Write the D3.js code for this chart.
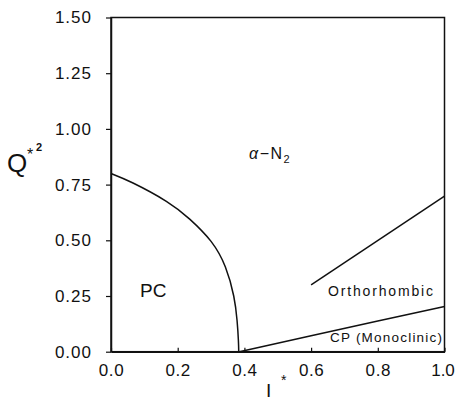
<!DOCTYPE html>
<html><head><meta charset="utf-8">
<script src="https://cdn.jsdelivr.net/npm/d3@7"></script>
<style>body{margin:0;background:#fff}svg{display:block}text{font-family:"Liberation Sans",Arial,sans-serif;fill:#111}</style>
</head><body><svg id="c" width="455" height="401"></svg>
<script>
const xTicks = [0.0, 0.2, 0.4, 0.6, 0.8, 1.0];
const yTicks = [0.00, 0.25, 0.50, 0.75, 1.00, 1.25, 1.50];
// PC / alpha-N2 boundary
const pcI = [0.000, 0.066, 0.166, 0.236, 0.300, 0.343, 0.368, 0.378, 0.382, 0.383];
const pcQ = [0.800, 0.757, 0.675, 0.595, 0.495, 0.380, 0.250, 0.140, 0.050, 0.000];
// CP (monoclinic) / orthorhombic boundary
const cpI = [0.385, 0.600, 0.800, 1.000];
const cpQ = [0.000, 0.072, 0.138, 0.203];
// orthorhombic / alpha-N2 boundary
const orI = [0.600, 1.000];
const orQ = [0.300, 0.698];

const svg = d3.select("#c");
const x = d3.scaleLinear().domain([0, 1]).range([111, 444.5]);
const y = d3.scaleLinear().domain([0, 1.5]).range([351.7, 17.5]);

svg.append("rect").attr("x", x(0)).attr("y", y(1.5)).attr("width", x(1) - x(0)).attr("height", y(0) - y(1.5))
  .attr("fill", "none").attr("stroke", "#111").attr("stroke-width", 1.5);

const xa = svg.append("g").attr("transform", `translate(0,${y(0)})`)
  .call(d3.axisBottom(x).tickValues(xTicks).tickFormat(d3.format(".1f")).tickSizeInner(-4).tickSizeOuter(0).tickPadding(8));
xa.select(".domain").attr("stroke", "#111").attr("stroke-width", 1.5);
xa.selectAll("line").attr("stroke", "#111").attr("stroke-width", 1.2);
xa.selectAll("text").attr("font-size", 17).attr("letter-spacing", 0.6).attr("dy", "0.95em").attr("font-family", "Liberation Sans, Arial, sans-serif").attr("fill", "#222");
xa.selectAll(".tick").filter(d => d === 1).select("text").attr("letter-spacing", 0).attr("dx", -2);

const ya = svg.append("g").attr("transform", `translate(${x(0)},0)`)
  .call(d3.axisLeft(y).tickValues(yTicks).tickFormat(d3.format(".2f")).tickSizeInner(5).tickSizeOuter(0).tickPadding(14));
ya.select(".domain").attr("stroke", "#111").attr("stroke-width", 1.5);
ya.selectAll("line").attr("stroke", "#111").attr("stroke-width", 1.2);
ya.selectAll("text").attr("font-size", 17).attr("letter-spacing", 1).attr("font-family", "Liberation Sans, Arial, sans-serif").attr("fill", "#222");

const line = d3.line().x(d => x(d[0])).y(d => y(d[1]));
function draw(I, Q, gen) {
  svg.append("path").datum(I.map((v, i) => [v, Q[i]])).attr("d", gen)
    .attr("fill", "none").attr("stroke", "#111").attr("stroke-width", 1.5);
}
draw(pcI, pcQ, d3.line().x(d => x(d[0])).y(d => y(d[1])).curve(d3.curveNatural));
draw(cpI, cpQ, line);
draw(orI, orQ, line);

// region labels
svg.append("text").attr("x", 249).attr("y", 159).attr("font-size", 16).attr("letter-spacing", 1.5)
  .html('<tspan font-style="italic">α</tspan>−N<tspan dy="4" font-size="11">2</tspan>');
svg.append("text").attr("x", 140).attr("y", 297).attr("font-size", 19).text("PC");
svg.append("text").attr("x", 328).attr("y", 296).attr("font-size", 14).attr("textLength", 105).attr("lengthAdjust", "spacing").text("Orthorhombic");
svg.append("text").attr("x", 330).attr("y", 342).attr("font-size", 13.5).attr("textLength", 112).attr("lengthAdjust", "spacing").text("CP  (Monoclinic)");

// axis titles
svg.append("text").attr("x", 7).attr("y", 172).attr("font-size", 26).text("Q");
svg.append("text").attr("x", 27).attr("y", 160).attr("font-size", 16).text("*");
svg.append("text").attr("x", 36).attr("y", 151).attr("font-size", 11).attr("font-weight", "bold").text("2");
svg.append("text").attr("x", 266).attr("y", 397).attr("font-size", 19).text("I");
svg.append("text").attr("x", 281).attr("y", 385).attr("font-size", 14).text("*");
</script></body></html>
